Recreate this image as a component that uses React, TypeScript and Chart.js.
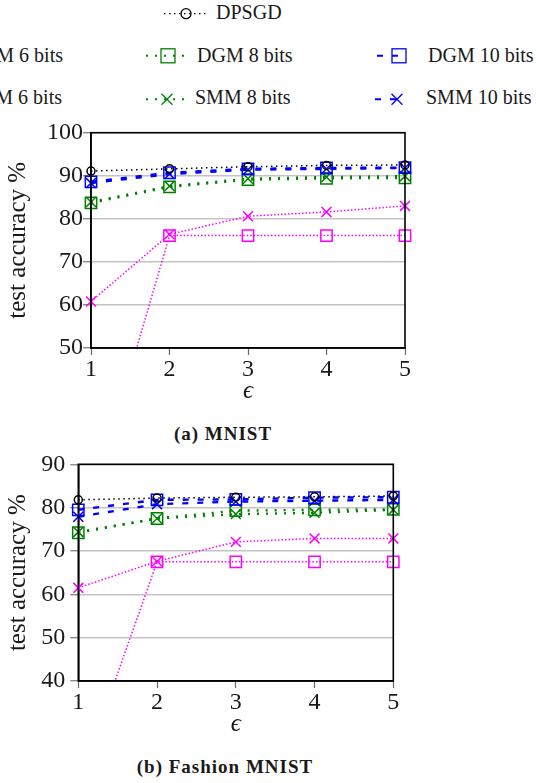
import React, { useEffect, useRef } from "react";
import { Chart, registerables } from "chart.js";
Chart.register(...registerables);

// ---------- data ----------
const epsilons = [1, 2, 3, 4, 5];

const mnistDPSGD = [91.1, 91.6, 92.1, 92.4, 92.5];
const mnistDGM6 = [13.7, 76.1, 76.1, 76.1, 76.1];
const mnistDGM8 = [83.7, 87.4, 89.1, 89.4, 89.5];
const mnistDGM10 = [88.6, 90.7, 91.6, 91.8, 91.9];
const mnistSMM6 = [60.8, 76.4, 80.6, 81.6, 83.0];
const mnistSMM8 = [83.9, 87.6, 89.3, 89.7, 89.9];
const mnistSMM10 = [88.3, 90.4, 91.4, 91.6, 91.8];
const mnistYTicks = [50, 60, 70, 80, 90, 100];

const fashionDPSGD = [81.8, 82.2, 82.4, 82.5, 82.7];
const fashionDGM6 = [16.0, 67.5, 67.5, 67.5, 67.5];
const fashionDGM8 = [74.2, 77.5, 79.3, 79.5, 79.6];
const fashionDGM10 = [79.5, 81.8, 81.9, 82.3, 82.4];
const fashionSMM6 = [61.5, 67.6, 72.1, 72.9, 72.9];
const fashionSMM8 = [74.4, 77.5, 78.5, 78.8, 79.5];
const fashionSMM10 = [77.9, 80.8, 81.4, 81.6, 81.8];
const fashionYTicks = [40, 50, 60, 70, 80, 90];

const yAxisTitle = "test accuracy %";
const xAxisTitle = "ϵ";
const captionA = "(a) MNIST";
const captionB = "(b) Fashion MNIST";

// ---------- styles ----------
const FONT = "'Liberation Serif', 'DejaVu Serif', serif";
const TEXT = "#1a1a1a";

type Style = { color: string; width: number; dash: number[]; point: string; r: number };
const styles: Record<string, Style> = {
  "DPSGD": { color: "#000000", width: 1.5, dash: [1.5, 3.5], point: "circle", r: 4 },
  "DGM 10 bits": { color: "#0000ff", width: 2.4, dash: [6, 9], point: "rect", r: 8 },
  "SMM 10 bits": { color: "#0000ff", width: 2.4, dash: [6, 9], point: "crossRot", r: 7 },
  "DGM 8 bits": { color: "#008000", width: 2.4, dash: [2, 7], point: "rect", r: 8 },
  "SMM 8 bits": { color: "#008000", width: 2.4, dash: [2, 7], point: "crossRot", r: 7 },
  "DGM 6 bits": { color: "#ff00ff", width: 1.5, dash: [1.5, 2], point: "rect", r: 8 },
  "SMM 6 bits": { color: "#ff00ff", width: 1.5, dash: [1.5, 2], point: "crossRot", r: 7 },
};

type ChartSpec = {
  series: [string, number[]][];
  yTicks: number[];
  canvasTop: number;
  areaLeft: number;
  areaRight: number;
  areaTop: number;
  areaBottom: number;
  yTickPad: number;
};

const W = 430;
const X_AXIS_H = 62;

const mnistSpec: ChartSpec = {
  series: [
    ["DPSGD", mnistDPSGD],
    ["DGM 10 bits", mnistDGM10],
    ["SMM 10 bits", mnistSMM10],
    ["DGM 8 bits", mnistDGM8],
    ["SMM 8 bits", mnistSMM8],
    ["DGM 6 bits", mnistDGM6],
    ["SMM 6 bits", mnistSMM6],
  ],
  yTicks: mnistYTicks,
  canvasTop: 110,
  areaLeft: 91,
  areaRight: 405,
  areaTop: 132.7,
  areaBottom: 348,
  yTickPad: 0,
};

const fashionSpec: ChartSpec = {
  series: [
    ["DPSGD", fashionDPSGD],
    ["DGM 10 bits", fashionDGM10],
    ["SMM 10 bits", fashionSMM10],
    ["DGM 8 bits", fashionDGM8],
    ["SMM 8 bits", fashionSMM8],
    ["DGM 6 bits", fashionDGM6],
    ["SMM 6 bits", fashionSMM6],
  ],
  yTicks: fashionYTicks,
  canvasTop: 440,
  areaLeft: 78.3,
  areaRight: 393.3,
  areaTop: 464.3,
  areaBottom: 681,
  yTickPad: 5,
};

const framePlugin = {
  id: "frame",
  afterDraw(chart: any) {
    const { ctx, chartArea } = chart;
    const { left, top, right, bottom } = chartArea;
    ctx.save();
    ctx.strokeStyle = "#000";
    ctx.lineWidth = 1.6;
    ctx.strokeRect(left, top, right - left, bottom - top);
    ctx.restore();
  },
};

function AccuracyChart({ spec }: { spec: ChartSpec }) {
  const ref = useRef<HTMLCanvasElement>(null);
  const padTop = spec.areaTop - spec.canvasTop;
  const H = Math.round(padTop + (spec.areaBottom - spec.areaTop) + X_AXIS_H);
  const xAxisH = H - padTop - (spec.areaBottom - spec.areaTop);

  useEffect(() => {
    const datasets = spec.series.map(([name, vals]) => {
      const s = styles[name];
      return {
        label: name,
        data: epsilons.map((e, i) => ({ x: e, y: vals[i] })),
        borderColor: s.color,
        backgroundColor: "transparent",
        borderWidth: s.width,
        borderDash: s.dash,
        tension: 0,
        pointStyle: s.point,
        pointRadius: s.r,
        pointBorderWidth: 1.5,
        pointBorderColor: s.color,
        pointBackgroundColor: "transparent",
        clip: { left: 14, right: 14, top: 14, bottom: 0 },
      };
    });
    const chart = new Chart(ref.current!, {
      type: "line",
      data: { datasets } as any,
      options: {
        animation: false,
        responsive: false,
        events: [],
        layout: { padding: { top: padTop, right: W - spec.areaRight, bottom: 0, left: 0 } },
        plugins: { legend: { display: false }, tooltip: { enabled: false } },
        scales: {
          x: {
            type: "linear",
            min: 1,
            max: 5,
            afterBuildTicks: (s: any) => {
              s.ticks = epsilons.map((v) => ({ value: v }));
            },
            afterFit: (s: any) => {
              s.height = xAxisH;
            },
            ticks: { font: { family: FONT, size: 24 }, color: TEXT, padding: 0, maxRotation: 0 },
            grid: { drawOnChartArea: false, drawTicks: true, tickLength: 7, tickColor: "#6a6a6a", tickWidth: 1.2 },
            border: { display: true, color: "#000", width: 1.6 },
            title: {
              display: true,
              text: xAxisTitle,
              color: TEXT,
              font: { family: FONT, size: 25, style: "italic" },
              padding: { top: 0, bottom: 3.5 },
            },
          },
          y: {
            type: "linear",
            min: spec.yTicks[0],
            max: spec.yTicks[spec.yTicks.length - 1],
            afterBuildTicks: (s: any) => {
              s.ticks = spec.yTicks.map((v) => ({ value: v }));
            },
            afterFit: (s: any) => {
              s.width = spec.areaLeft;
            },
            ticks: { font: { family: FONT, size: 24 }, color: TEXT, padding: spec.yTickPad },
            grid: { color: "#c4c4c4", lineWidth: 1.4, drawTicks: true, tickLength: 8, tickColor: "#8a8a8a", tickWidth: 1.4 },
            border: { display: true, color: "#000", width: 1.6 },
            title: {
              display: true,
              text: yAxisTitle,
              color: TEXT,
              font: { family: FONT, size: 25 },
              padding: { top: 3, bottom: 0 },
            },
          },
        },
      } as any,
      plugins: [framePlugin],
    });
    return () => chart.destroy();
  }, []);

  return (
    <div style={{ position: "absolute", left: 0, top: spec.canvasTop, width: W, height: H }}>
      <canvas ref={ref} width={W} height={H} style={{ width: W, height: H, display: "block" }} />
    </div>
  );
}

// ---------- legend (layout only) ----------
type LegendPos = { name: string; x1: number; x2: number; mx: number; my: number; tx: number; ty: number; anchor: "start" | "end" };
const legendLayout: LegendPos[] = [
  { name: "DPSGD", x1: 164, x2: 206, mx: 186, my: 13.7, tx: 216, ty: 18.8, anchor: "start" },
  { name: "DGM 6 bits", x1: -80, x2: -40, mx: -60, my: 55.8, tx: 63, ty: 61.6, anchor: "end" },
  { name: "DGM 8 bits", x1: 146, x2: 188, mx: 168, my: 55.8, tx: 197, ty: 61.6, anchor: "start" },
  { name: "DGM 10 bits", x1: 377, x2: 406, mx: 399, my: 55.8, tx: 428, ty: 61.6, anchor: "start" },
  { name: "SMM 6 bits", x1: -80, x2: -40, mx: -60, my: 99.3, tx: 62, ty: 104.4, anchor: "end" },
  { name: "SMM 8 bits", x1: 146, x2: 188, mx: 167, my: 99.3, tx: 195, ty: 104.4, anchor: "start" },
  { name: "SMM 10 bits", x1: 375, x2: 404, mx: 397, my: 99.3, tx: 426, ty: 104.4, anchor: "start" },
];

function Legend() {
  return (
    <svg width={537} height={112} style={{ position: "absolute", left: 0, top: 0 }}>
      {legendLayout.map((it) => {
        const s = styles[it.name];
        let marker: any = null;
        if (s.point === "circle") {
          marker = <circle cx={it.mx} cy={it.my} r={5} fill="none" stroke={s.color} strokeWidth={1.3} />;
        } else if (s.point === "rect") {
          marker = <rect x={it.mx - 7} y={it.my - 7} width={14} height={14} fill="none" stroke={s.color} strokeWidth={1.3} />;
        } else {
          const d = 5.5;
          marker = (
            <g stroke={s.color} strokeWidth={1.3}>
              <line x1={it.mx - d} y1={it.my - d} x2={it.mx + d} y2={it.my + d} />
              <line x1={it.mx - d} y1={it.my + d} x2={it.mx + d} y2={it.my - d} />
            </g>
          );
        }
        return (
          <g key={it.name}>
            <line
              x1={it.x1}
              y1={it.my}
              x2={it.x2}
              y2={it.my}
              stroke={s.color}
              strokeWidth={s.width * 0.8}
              strokeDasharray={s.dash.join(" ")}
            />
            {marker}
            <text x={it.tx} y={it.ty} textAnchor={it.anchor} fontFamily={FONT} fontSize={20} fill={TEXT}>
              {it.name}
            </text>
          </g>
        );
      })}
    </svg>
  );
}

function Caption({ text, cx, baseline }: { text: string; cx: number; baseline: number }) {
  return (
    <svg width={537} height={40} style={{ position: "absolute", left: 0, top: baseline - 28 }}>
      <text x={cx} y={28} textAnchor="middle" fontFamily={FONT} fontWeight="bold" fontSize={19} letterSpacing={1} fill={TEXT}>
        {text}
      </text>
    </svg>
  );
}

export default function App() {
  return (
    <div style={{ position: "absolute", left: 0, top: 0, width: 537, height: 783, overflow: "hidden", background: "#fff" }}>
      <Legend />
      <AccuracyChart spec={mnistSpec} />
      <Caption text={captionA} cx={223} baseline={440} />
      <AccuracyChart spec={fashionSpec} />
      <Caption text={captionB} cx={225} baseline={773} />
    </div>
  );
}
